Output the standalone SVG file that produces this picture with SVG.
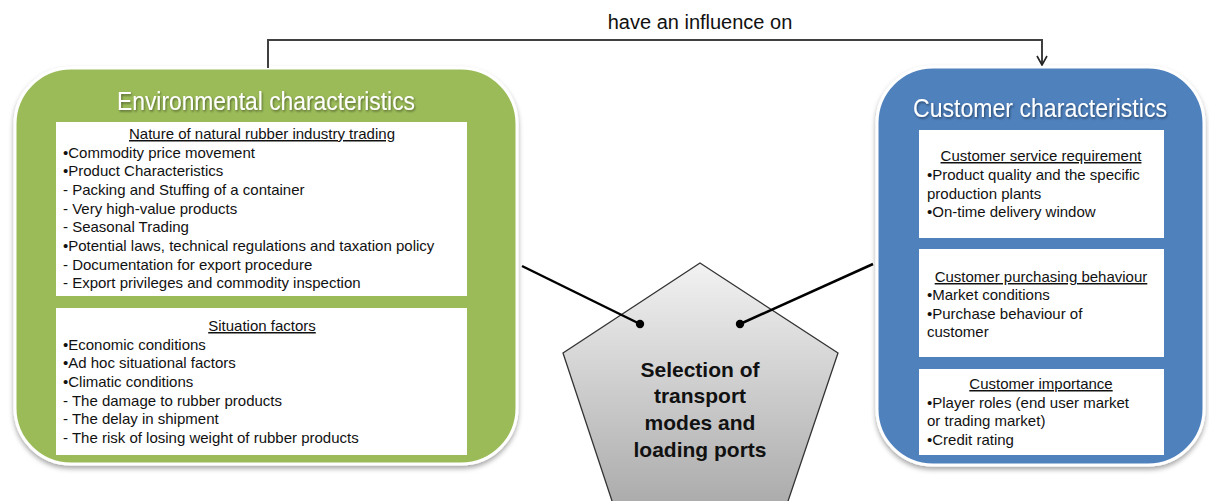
<svg xmlns="http://www.w3.org/2000/svg" width="1209" height="501" viewBox="0 0 1209 501">
<defs>
  <filter id="shadow" x="-5%" y="-5%" width="110%" height="112%">
    <feDropShadow dx="0" dy="3" stdDeviation="2.5" flood-color="#000" flood-opacity="0.35"/>
  </filter>
  <filter id="tshadow" x="-5%" y="-20%" width="110%" height="140%">
    <feDropShadow dx="1" dy="1.5" stdDeviation="0.8" flood-color="#000" flood-opacity="0.45"/>
  </filter>
  <linearGradient id="pent" x1="0" y1="0" x2="0" y2="1">
    <stop offset="0" stop-color="#f2f2f2"/>
    <stop offset="1" stop-color="#a8a8a8"/>
  </linearGradient>
  <marker id="arrow" viewBox="0 0 12 12" refX="11" refY="6" markerWidth="12" markerHeight="12" markerUnits="userSpaceOnUse" orient="auto">
    <path d="M2,1 L11,6 L2,11" fill="none" stroke="#222" stroke-width="1.6"/>
  </marker>
  <marker id="dot" viewBox="0 0 10 10" refX="5" refY="5" markerWidth="10" markerHeight="10" markerUnits="userSpaceOnUse">
    <circle cx="5" cy="5" r="4.2" fill="#000"/>
  </marker>
</defs>
<style>
  .outer { stroke: #fff; stroke-width: 3; filter: url(#shadow); }
  .inner { fill: #fff; }
  .title { font-family: "Liberation Sans", Arial, sans-serif; font-size: 26px; fill: #fff; text-anchor: middle; filter: url(#tshadow); }
  .body { font-family: "Liberation Sans", Arial, sans-serif; font-size: 15px; fill: #111; }
  .head { font-family: "Liberation Sans", Arial, sans-serif; font-size: 15px; fill: #111; text-anchor: middle; text-decoration: underline; }
  .conn { fill: none; stroke: #000; stroke-width: 2.5; }
  .top { fill: none; stroke: #404040; stroke-width: 2; }
  .label { font-family: "Liberation Sans", Arial, sans-serif; font-size: 20px; fill: #111; text-anchor: middle; }
  .ptext { font-family: "Liberation Sans", Arial, sans-serif; font-size: 21px; font-weight: bold; fill: #111; text-anchor: middle; }
</style>

<g id="environmental">
  <rect class="outer" x="15" y="68" width="502" height="396" rx="56" ry="56" fill="#9bbb59"/>
  <text class="title" x="266" y="110" textLength="298" lengthAdjust="spacingAndGlyphs">Environmental characteristics</text>
  <rect class="inner" x="56" y="122" width="411" height="174"/>
  <text class="head" x="262" y="139">Nature of natural rubber industry trading</text>
  <text class="body" x="63" y="158">•Commodity price movement</text>
  <text class="body" x="63" y="176">•Product Characteristics</text>
  <text class="body" x="63" y="195">- Packing and Stuffing of a container</text>
  <text class="body" x="63" y="214">- Very high-value products</text>
  <text class="body" x="63" y="232">- Seasonal Trading</text>
  <text class="body" x="63" y="251">•Potential laws, technical regulations and taxation policy</text>
  <text class="body" x="63" y="270">-  Documentation for export procedure</text>
  <text class="body" x="63" y="288">-  Export privileges and commodity inspection</text>
  <rect class="inner" x="56" y="308" width="411" height="147"/>
  <text class="head" x="262" y="331">Situation factors</text>
  <text class="body" x="63" y="350">•Economic conditions</text>
  <text class="body" x="63" y="368">•Ad hoc situational factors</text>
  <text class="body" x="63" y="387">•Climatic conditions</text>
  <text class="body" x="63" y="406">- The damage to rubber products</text>
  <text class="body" x="63" y="424">- The delay in shipment</text>
  <text class="body" x="63" y="443">- The risk of losing weight of rubber products</text>
</g>

<g id="selection">
  <polygon points="700,263 838,353 783,516 617,516 563,353" fill="url(#pent)" stroke="#333" stroke-width="1.3"/>
  <text class="ptext" x="700" y="377">Selection of</text>
  <text class="ptext" x="700" y="403">transport</text>
  <text class="ptext" x="700" y="430">modes and</text>
  <text class="ptext" x="700" y="457">loading ports</text>
</g>

<g id="customer">
  <rect class="outer" x="877" y="67" width="327" height="398" rx="56" ry="56" fill="#4f81bd"/>
  <text class="title" x="1040" y="117" textLength="254" lengthAdjust="spacingAndGlyphs">Customer characteristics</text>
  <rect class="inner" x="919" y="130" width="245" height="108"/>
  <text class="head" x="1041" y="161">Customer service requirement</text>
  <text class="body" x="927" y="180">•Product quality and the specific</text>
  <text class="body" x="927" y="199">production plants</text>
  <text class="body" x="927" y="217">•On-time delivery window</text>
  <rect class="inner" x="919" y="249" width="245" height="108"/>
  <text class="head" x="1041" y="282">Customer purchasing behaviour</text>
  <text class="body" x="927" y="300">•Market conditions</text>
  <text class="body" x="927" y="319">•Purchase behaviour of</text>
  <text class="body" x="927" y="337">customer</text>
  <rect class="inner" x="919" y="369" width="245" height="86"/>
  <text class="head" x="1041" y="389">Customer importance</text>
  <text class="body" x="927" y="408">•Player roles (end user market</text>
  <text class="body" x="927" y="426">or trading market)</text>
  <text class="body" x="927" y="445">•Credit rating</text>
</g>

<g id="connectors">
  <path class="top" d="M268,68 V40 H1042 V65" marker-end="url(#arrow)"/>
  <text class="label" x="700" y="29">have an influence on</text>
  <line class="conn" x1="522" y1="266" x2="640" y2="324" marker-end="url(#dot)"/>
  <line class="conn" x1="873" y1="264" x2="740" y2="324" marker-end="url(#dot)"/>
</g>
</svg>
